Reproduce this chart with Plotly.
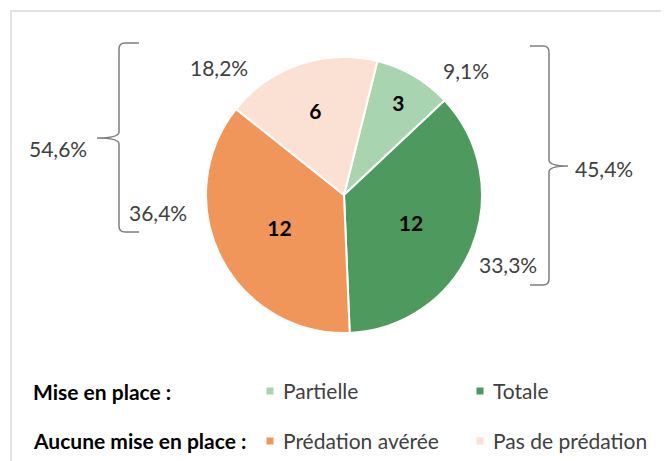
import plotly.graph_objects as go

# ---- data ----
categories = ["Partielle", "Totale", "Prédation avérée", "Pas de prédation"]
values = [3, 12, 12, 6]
colors = ["#a9d4b0", "#4e9a5e", "#f0965a", "#fbe1d3"]
pct_labels = ["9,1%", "33,3%", "36,4%", "18,2%"]
group_labels = ["45,4%", "54,6%"]
row_titles = ["Mise en place :", "Aucune mise en place :"]

W, H = 669, 461
OFF = 8  # page body margin
FONT = "Lato, 'Open Sans', sans-serif"
GRAY = "#404040"
FS = 21

def px(x):
    return (x - OFF) / W

def py(y):
    return 1 - (y - OFF) / H

fig = go.Figure()

fig.add_trace(go.Pie(
    labels=categories,
    values=values,
    sort=False,
    direction="clockwise",
    rotation=14,
    marker=dict(colors=colors, line=dict(color="white", width=2)),
    textinfo="value",
    textposition="inside",
    insidetextorientation="horizontal",
    textfont=dict(family=FONT, size=FS, color="black", weight="bold"),
    domain=dict(x=[px(206), px(482)], y=[py(333), py(57)]),
    showlegend=False,
    hoverinfo="label+value+percent",
))

# hidden pixel axes for shapes (reference pixel coordinates)
fig.update_layout(
    xaxis=dict(range=[OFF, W + OFF], visible=False, fixedrange=True),
    yaxis=dict(range=[H + OFF, OFF], visible=False, fixedrange=True),
)

shapes = []
# frame
shapes.append(dict(type="rect", xref="x", yref="y", x0=11, y0=11, x1=662, y1=480,
                   line=dict(color="#d9d9d9", width=1.5), fillcolor="rgba(0,0,0,0)"))

def brace_left(xv, xe, xt, y0, ym, y1, r=6):
    return (f"M {xe},{y0} L {xv+r},{y0} Q {xv},{y0} {xv},{y0+r} "
            f"L {xv},{ym-r} Q {xv},{ym} {xt},{ym} Q {xv},{ym} {xv},{ym+r} "
            f"L {xv},{y1-r} Q {xv},{y1} {xv+r},{y1} L {xe},{y1}")

def brace_right(xv, xe, xt, y0, ym, y1, r=6):
    return (f"M {xe},{y0} L {xv-r},{y0} Q {xv},{y0} {xv},{y0+r} "
            f"L {xv},{ym-r} Q {xv},{ym} {xt},{ym} Q {xv},{ym} {xv},{ym+r} "
            f"L {xv},{y1-r} Q {xv},{y1} {xv-r},{y1} L {xe},{y1}")

shapes.append(dict(type="path", xref="x", yref="y",
                   path=brace_left(119, 139, 97, 43, 138, 232),
                   line=dict(color="#7f7f7f", width=1.5)))
shapes.append(dict(type="path", xref="x", yref="y",
                   path=brace_right(549, 530, 568, 46, 166, 285),
                   line=dict(color="#7f7f7f", width=1.5)))

# legend squares
sq = 7
legend_pos = [(270, 391), (480, 391), (270, 441), (480, 441)]
for (x, y), c in zip(legend_pos, colors):
    shapes.append(dict(type="rect", xref="x", yref="y", x0=x - sq / 2, x1=x + sq / 2,
                       y0=y - sq / 2, y1=y + sq / 2, fillcolor=c, line=dict(width=0)))

annotations = []
pct_pos = [(466, 70), (508, 264), (158, 212), (219, 67)]
for (x, y), t in zip(pct_pos, pct_labels):
    annotations.append(dict(x=x, y=y, xref="x", yref="y", text=t, showarrow=False,
                            font=dict(family=FONT, size=FS, color=GRAY)))
annotations.append(dict(x=604, y=168, xref="x", yref="y", text=group_labels[0], showarrow=False,
                        font=dict(family=FONT, size=FS, color=GRAY)))
annotations.append(dict(x=58, y=148, xref="x", yref="y", text=group_labels[1], showarrow=False,
                        font=dict(family=FONT, size=FS, color=GRAY)))

for y, t in zip([391, 440], row_titles):
    annotations.append(dict(x=31, y=y, xref="x", yref="y", text=f"<b>{t}</b>", showarrow=False,
                            xanchor="left", font=dict(family=FONT, size=FS, color="black")))
for (x, y), t in zip(legend_pos, categories):
    annotations.append(dict(x=x + 11, y=y - 1, xref="x", yref="y", text=t, showarrow=False,
                            xanchor="left", font=dict(family=FONT, size=FS, color=GRAY)))

fig.update_layout(
    width=W, height=H,
    margin=dict(l=0, r=0, t=0, b=0),
    paper_bgcolor="white",
    plot_bgcolor="rgba(0,0,0,0)",
    shapes=shapes,
    annotations=annotations,
    font=dict(family=FONT),
)

fig.write_html("out.html")
